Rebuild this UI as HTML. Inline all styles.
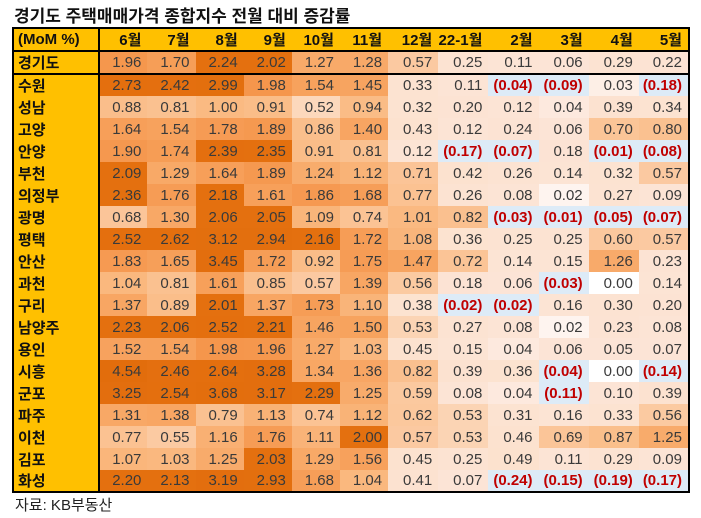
<!DOCTYPE html>
<html><head><meta charset="utf-8">
<style>
body{margin:0;background:#fff;width:701px;height:518px;overflow:hidden;font-family:"Liberation Sans","Noto Sans CJK KR",sans-serif;}
#title{position:absolute;left:14px;top:2px;font-size:17px;font-weight:bold;color:#111;}
#src{position:absolute;left:15px;top:494px;font-size:15px;color:#222;}
table{position:absolute;left:12px;top:27px;border-collapse:collapse;border:2px solid #000;table-layout:fixed;}
td{height:22px;padding:0 6px 0 0;text-align:right;font-size:15px;color:#3a3a3a;box-sizing:border-box;white-space:nowrap;}
tr.h td{background:#FFC000;font-weight:bold;color:#111;height:23px;border-bottom:2px solid #000;}
td.lab{background:#FFC000;font-weight:bold;color:#111;text-align:left;padding-left:4px;border-right:2px solid #000;}
tr.g td{border-bottom:2px solid #000;}
td.neg{color:#C00000;font-weight:bold;}
</style></head><body>
<div id="title">경기도 주택매매가격 종합지수 전월 대비 증감률</div>
<table id="tbl"><colgroup id="cg"></colgroup><tbody id="tb"></tbody></table>
<div id="src">자료: KB부동산</div>
<script>
const months=["6월","7월","8월","9월","10월","11월","12월","22-1월","2월","3월","4월","5월"];
const regions=["경기도","수원","성남","고양","안양","부천","의정부","광명","평택","안산","과천","구리","남양주","용인","시흥","군포","파주","이천","김포","화성"];
const values=[
[1.96,1.70,2.24,2.02,1.27,1.28,0.57,0.25,0.11,0.06,0.29,0.22],
[2.73,2.42,2.99,1.98,1.54,1.45,0.33,0.11,-0.04,-0.09,0.03,-0.18],
[0.88,0.81,1.00,0.91,0.52,0.94,0.32,0.20,0.12,0.04,0.39,0.34],
[1.64,1.54,1.78,1.89,0.86,1.40,0.43,0.12,0.24,0.06,0.70,0.80],
[1.90,1.74,2.39,2.35,0.91,0.81,0.12,-0.17,-0.07,0.18,-0.01,-0.08],
[2.09,1.29,1.64,1.89,1.24,1.12,0.71,0.42,0.26,0.14,0.32,0.57],
[2.36,1.76,2.18,1.61,1.86,1.68,0.77,0.26,0.08,0.02,0.27,0.09],
[0.68,1.30,2.06,2.05,1.09,0.74,1.01,0.82,-0.03,-0.01,-0.05,-0.07],
[2.52,2.62,3.12,2.94,2.16,1.72,1.08,0.36,0.25,0.25,0.60,0.57],
[1.83,1.65,3.45,1.72,0.92,1.75,1.47,0.72,0.14,0.15,1.26,0.23],
[1.04,0.81,1.61,0.85,0.57,1.39,0.56,0.18,0.06,-0.03,0.00,0.14],
[1.37,0.89,2.01,1.37,1.73,1.10,0.38,-0.02,-0.02,0.16,0.30,0.20],
[2.23,2.06,2.52,2.21,1.46,1.50,0.53,0.27,0.08,0.02,0.23,0.08],
[1.52,1.54,1.98,1.96,1.27,1.03,0.45,0.15,0.04,0.06,0.05,0.07],
[4.54,2.46,2.64,3.28,1.34,1.36,0.82,0.39,0.36,-0.04,0.00,-0.14],
[3.25,2.54,3.68,3.17,2.29,1.25,0.59,0.08,0.04,-0.11,0.10,0.39],
[1.31,1.38,0.79,1.13,0.74,1.12,0.62,0.53,0.31,0.16,0.33,0.56],
[0.77,0.55,1.16,1.76,1.11,2.00,0.57,0.53,0.46,0.69,0.87,1.25],
[1.07,1.03,1.25,2.03,1.29,1.56,0.45,0.25,0.49,0.11,0.29,0.09],
[2.20,2.13,3.19,2.93,1.68,1.04,0.41,0.07,-0.24,-0.15,-0.19,-0.17]];
const widths=[86,48,48,48,48,48,48,50,50,50,50,50,50];
const stops=[[0,[255,255,255]],[0.05,[252,228,214]],[0.5,[252,226,206]],[0.55,[251,202,162]],[1.0,[250,186,130]],[1.3,[248,168,102]],[1.99,[245,150,76]],[2.0,[228,112,15]],[5,[226,108,12]]];
function color(v){
  if(v<0)return"#DDEBF7";
  for(let i=1;i<stops.length;i++){
    if(v<=stops[i][0]){const a=stops[i-1],b=stops[i];const t=(v-a[0])/(b[0]-a[0]);
      const c=a[1].map((x,k)=>Math.round(x+(b[1][k]-x)*t));return`rgb(${c})`;}
  }
  return"#E26C0C";
}
const cg=document.getElementById('cg');
widths.forEach(w=>{const c=document.createElement('col');c.style.width=w+'px';cg.appendChild(c);});
document.getElementById('tbl').style.width=(widths.reduce((a,b)=>a+b,0)+4)+'px';
const tb=document.getElementById('tb');
const hr=document.createElement('tr');hr.className='h';


const h0=document.createElement('td');h0.className='lab';h0.textContent='(MoM %)';


hr.appendChild(h0);
months.forEach(m=>{const td=document.createElement('td');td.textContent=m;


hr.appendChild(td);});
tb.appendChild(hr);
regions.forEach((r,i)=>{
  const tr=document.createElement('tr');if(i===0)tr.className='g';
  
  
  const l=document.createElement('td');l.className='lab';l.textContent=r;
  
  
  tr.appendChild(l);
  values[i].forEach(v=>{
    const td=document.createElement('td');
    
    
    td.style.background=color(v);
    if(v<0){td.className='neg';td.textContent='('+Math.abs(v).toFixed(2)+')';}
    else td.textContent=v.toFixed(2);
    tr.appendChild(td);
  });
  tb.appendChild(tr);
});
</script>
</body></html>
